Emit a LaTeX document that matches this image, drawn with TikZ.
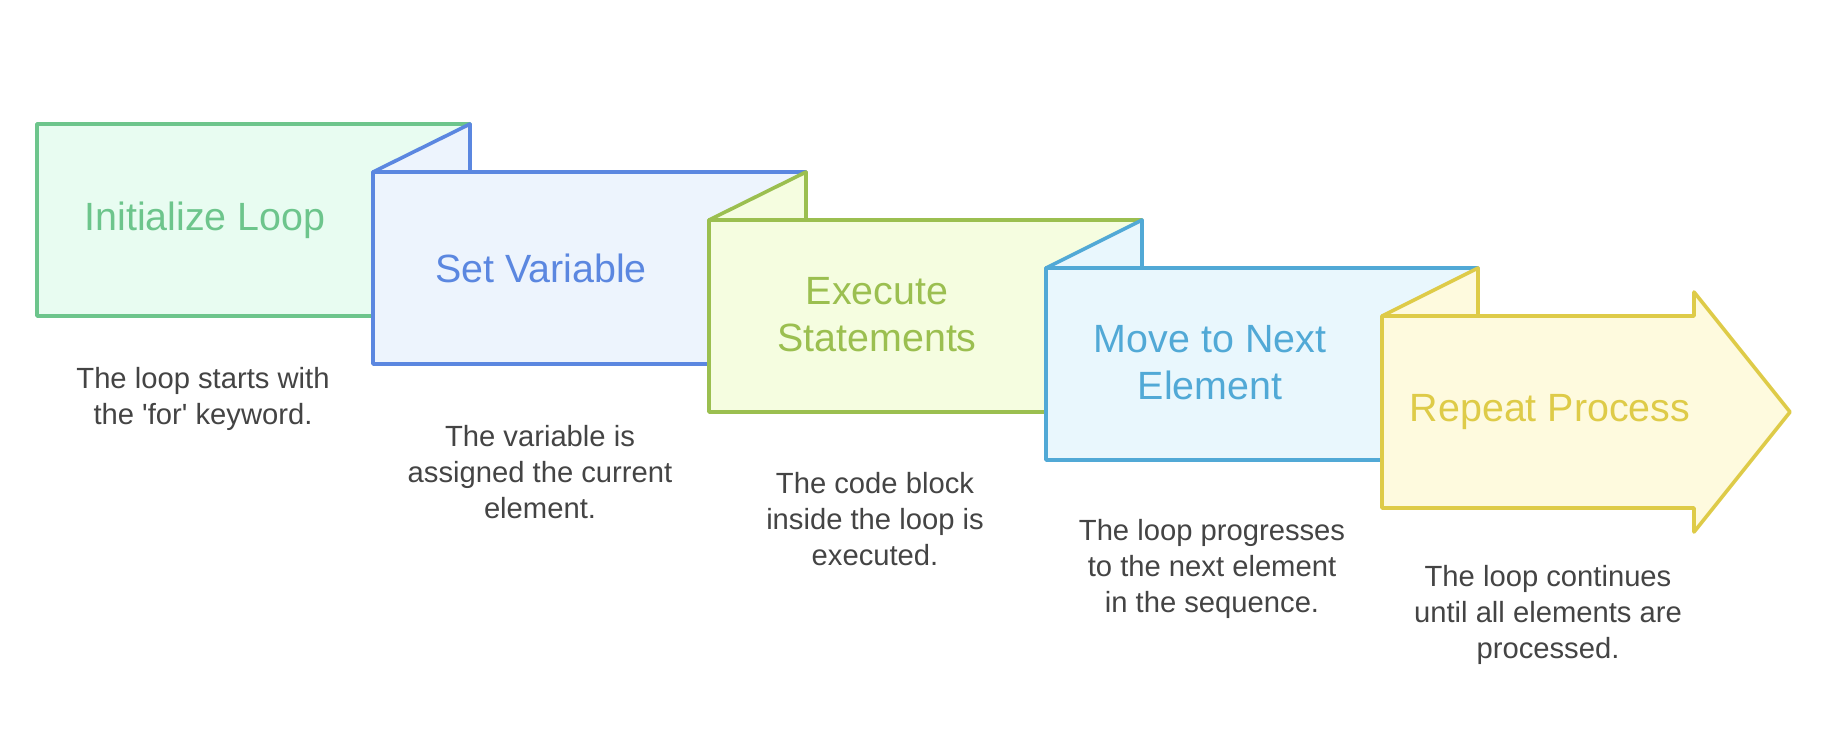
\documentclass[tikz,border=0pt]{standalone}
\usepackage{fontspec}
\setmainfont{Liberation Sans}
\definecolor{cA}{HTML}{6DC58C}\definecolor{fA}{HTML}{E8FCF1}
\definecolor{cB}{HTML}{5B87E0}\definecolor{fB}{HTML}{EDF4FD}
\definecolor{cC}{HTML}{9BBF50}\definecolor{fC}{HTML}{F5FDE0}
\definecolor{cD}{HTML}{51A9D6}\definecolor{fD}{HTML}{E9F7FD}
\definecolor{cE}{HTML}{DECB48}\definecolor{fE}{HTML}{FEFADE}
\definecolor{desccol}{HTML}{444444}
\begin{document}
\begin{tikzpicture}[x=0.5pt,y=-0.5pt,
  box/.style={line width=1.8pt, line join=round},
  title/.style={font=\fontsize{19.7}{23.5}\selectfont, align=center, inner sep=0pt},
  desc/.style={font=\fontsize{14.6}{18}\selectfont, text=desccol, align=center, inner sep=0pt}]
\useasboundingbox[fill=white] (0,0) rectangle (1824,752);
% box 1
\draw[box, draw=cA, fill=fA] (37,124) rectangle (470,316);
% box 2
\draw[box, draw=cB, fill=fB] (373,172) -- (470,124) -- (470,172) -- cycle;
\draw[box, draw=cB, fill=fB] (373,172) rectangle (806,364);
% box 3
\draw[box, draw=cC, fill=fC] (709,220) -- (806,172) -- (806,220) -- cycle;
\draw[box, draw=cC, fill=fC] (709,220) rectangle (1142,412);
% box 4
\draw[box, draw=cD, fill=fD] (1046,268) -- (1142,220) -- (1142,268) -- cycle;
\draw[box, draw=cD, fill=fD] (1046,268) rectangle (1478,460);
% box 5 (arrow)
\draw[box, draw=cE, fill=fE] (1382,316) -- (1478,268) -- (1478,316) -- cycle;
\draw[box, draw=cE, fill=fE] (1382,316) -- (1694,316) -- (1694,292) -- (1790,412)
  -- (1694,532) -- (1694,508) -- (1382,508) -- cycle;
% titles
\node[title, text=cA] (t1) at (205,220) {Initialize Loop};
\node[title, text=cB] (t2) at (541,268) {Set Variable};
\node[title, text=cC] (t3) at (877,315) {Execute\\Statements};
\node[title, text=cD] (t4) at (1210,363) {Move to Next\\Element};
\node[title, text=cE] (t5) at (1550,412) {Repeat Process};
% descriptions
\node[desc] (d1) at (203,399) {The loop starts with\\the \textquotesingle for\textquotesingle{} keyword.};
\node[desc] (d2) at (540,472) {The variable is\\assigned the current\\element.};
\node[desc] (d3) at (875,519) {The code block\\inside the loop is\\executed.};
\node[desc] (d4) at (1212,569) {The loop progresses\\to the next element\\in the sequence.};
\node[desc] (d5) at (1548,615) {The loop continues\\until all elements are\\processed.};
\end{tikzpicture}
\end{document}
